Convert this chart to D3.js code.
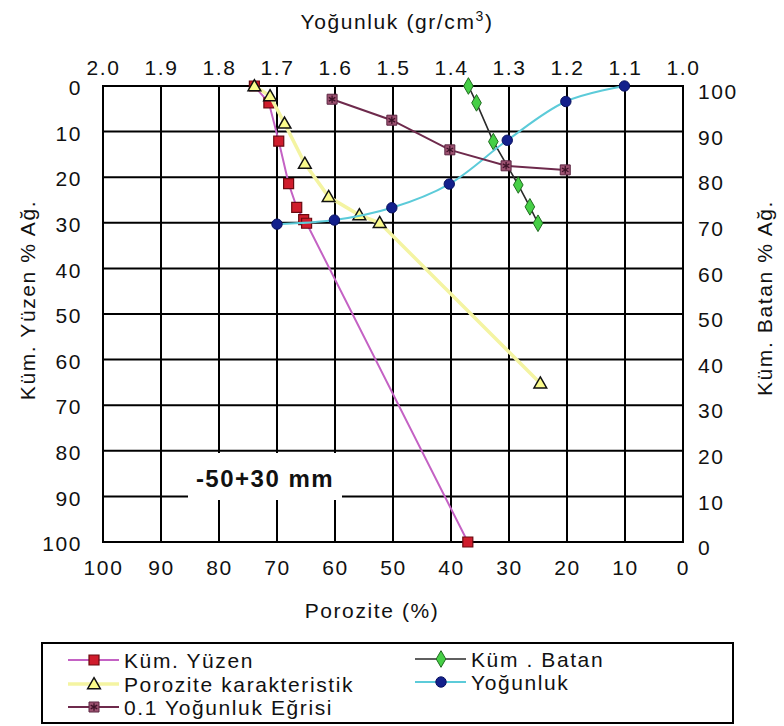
<!DOCTYPE html>
<html>
<head>
<meta charset="utf-8">
<script src="https://cdn.jsdelivr.net/npm/d3@7"></script>
<style>
  body { margin: 0; background: #fff; }
  text { font-family: "Liberation Sans", Arial, sans-serif; fill: #111; }
</style>
</head>
<body>
<svg id="chart" width="784" height="726"></svg>
<script>
// Porosity (%) on the shared horizontal axis, cumulative weight (%) on the vertical axes
const yuzenPorosity    = [73.9, 71.4, 69.7, 68.0, 66.6, 65.4, 64.9, 37.1];
const yuzenValues      = [0, 3.7, 12.1, 21.4, 26.6, 29.3, 30.1, 100];

const batanPorosity    = [37.0, 35.6, 32.7, 28.4, 26.4, 25.0];
const batanValues      = [100, 96.3, 87.8, 78.3, 73.5, 69.9];   // right axis

const porozitePorosity = [73.9, 71.2, 68.7, 65.2, 61.1, 55.8, 52.3, 24.6];
const poroziteValues   = [0, 2.2, 8.2, 17.0, 24.3, 28.3, 30.0, 65.2];

const yogunlukPorosity = [70.0, 60.1, 50.2, 40.3, 30.3, 20.2, 10.1];
const yogunlukValues   = [30.3, 29.4, 26.7, 21.5, 11.9, 3.4, 0];

const egriPorosity     = [60.5, 50.2, 40.2, 30.5, 20.3];
const egriValues       = [2.9, 7.5, 14.0, 17.5, 18.4];

const porosityTicks = [100, 90, 80, 70, 60, 50, 40, 30, 20, 10, 0];
const weightTicks   = [0, 10, 20, 30, 40, 50, 60, 70, 80, 90, 100];
const densityTicks  = [2.0, 1.9, 1.8, 1.7, 1.6, 1.5, 1.4, 1.3, 1.2, 1.1, 1.0];

const seriesNames = ["Küm. Yüzen", "Küm . Batan", "Porozite karakteristik", "Yoğunluk", "0.1  Yoğunluk Eğrisi"];

const svg = d3.select("#chart");
const plotLeft = 103, plotRight = 683, plotTop = 86, plotBottom = 542;

const x = d3.scaleLinear().domain([100, 0]).range([plotLeft, plotRight]);
const yLeft = d3.scaleLinear().domain([0, 100]).range([plotTop, plotBottom]);
const yRight = d3.scaleLinear().domain([100, 0]).range([plotTop, plotBottom]);
const xDensity = d3.scaleLinear().domain([2.0, 1.0]).range([plotLeft, plotRight]);

const fontSize = "21px";
const spacing = "1.6px";

// plot background
svg.append("rect").attr("x", plotLeft).attr("y", plotTop)
  .attr("width", plotRight - plotLeft).attr("height", plotBottom - plotTop).attr("fill", "#fff");

// gridlines
const grid = svg.append("g").attr("stroke", "#000").attr("stroke-width", 2);
grid.selectAll("line.v").data(porosityTicks).join("line")
  .attr("class", "v")
  .attr("x1", d => x(d)).attr("x2", d => x(d)).attr("y1", plotTop).attr("y2", plotBottom);
grid.selectAll("line.h").data(weightTicks).join("line")
  .attr("class", "h")
  .attr("x1", plotLeft).attr("x2", plotRight).attr("y1", d => yLeft(d)).attr("y2", d => yLeft(d));
svg.append("rect").attr("x", plotLeft).attr("y", plotTop)
  .attr("width", plotRight - plotLeft).attr("height", plotBottom - plotTop)
  .attr("fill", "none").attr("stroke", "#000").attr("stroke-width", 2);

function styleAxis(g) {
  g.select(".domain").remove();
  g.selectAll(".tick line").remove();
  g.selectAll("text").attr("font-size", fontSize).attr("letter-spacing", spacing)
    .attr("font-family", "'Liberation Sans', Arial, sans-serif").attr("fill", "#111");
}

// axes
svg.append("g").attr("transform", `translate(0,${plotBottom})`)
  .call(d3.axisBottom(x).tickValues(porosityTicks).tickSize(0).tickPadding(18).tickFormat(d3.format("d")))
  .call(styleAxis);
svg.append("g").attr("transform", `translate(0,${plotTop})`)
  .call(d3.axisTop(xDensity).tickValues(densityTicks).tickSize(0).tickPadding(11).tickFormat(d3.format(".1f")))
  .call(styleAxis);
svg.append("g").attr("transform", `translate(${plotLeft},0)`)
  .call(d3.axisLeft(yLeft).tickValues(weightTicks).tickSize(0).tickPadding(21).tickFormat(d3.format("d")))
  .call(styleAxis)
  .selectAll("text").attr("y", 2);
svg.append("g").attr("transform", `translate(${plotRight},0)`)
  .call(d3.axisRight(yRight).tickValues(weightTicks).tickSize(0).tickPadding(15).tickFormat(d3.format("d")))
  .call(styleAxis)
  .selectAll("text").attr("y", 6);

// axis titles
const topTitle = svg.append("text").attr("x", 397).attr("y", 29).attr("text-anchor", "middle")
  .attr("font-size", fontSize).attr("letter-spacing", spacing);
topTitle.append("tspan").text("Yoğunluk (gr/cm");
topTitle.append("tspan").attr("font-size", "14px").attr("dy", -8).text("3");
topTitle.append("tspan").attr("dy", 8).text(")");

svg.append("text").attr("x", 372).attr("y", 618).attr("text-anchor", "middle")
  .attr("font-size", fontSize).attr("letter-spacing", spacing).text("Porozite (%)");
svg.append("text").attr("transform", "translate(35,300) rotate(-90)").attr("text-anchor", "middle")
  .attr("font-size", fontSize).attr("letter-spacing", spacing).text("Küm. Yüzen % Ağ.");
svg.append("text").attr("transform", "translate(772,298) rotate(-90)").attr("text-anchor", "middle")
  .attr("font-size", fontSize).attr("letter-spacing", spacing).text("Küm. Batan % Ağ.");

// size label
svg.append("rect").attr("x", 188).attr("y", 453).attr("width", 154).attr("height", 47).attr("fill", "#fff");
svg.append("text").attr("x", 265).attr("y", 487).attr("text-anchor", "middle")
  .attr("font-size", "24px").attr("font-weight", "bold").attr("letter-spacing", "1.5px")
  .text("-50+30 mm");

// marker painters
const markers = {
  square(g, fill, stroke) {
    g.append("path").attr("d", d3.symbol(d3.symbolSquare, 100)())
      .attr("fill", fill).attr("stroke", stroke).attr("stroke-width", 1.2);
  },
  triangle(g) {
    g.append("path").attr("d", d3.symbol(d3.symbolTriangle, 70)()).attr("transform", "translate(0,1)")
      .attr("fill", "#fbfb8c").attr("stroke", "#111").attr("stroke-width", 1.5);
  },
  diamond(g) {
    g.append("path").attr("d", d3.symbol(d3.symbolDiamond, 80)())
      .attr("fill", "#46cf46").attr("stroke", "#1f6a1f").attr("stroke-width", 1);
  },
  dot(g) {
    g.append("path").attr("d", d3.symbol(d3.symbolCircle, 85)())
      .attr("fill", "#13208c").attr("stroke", "#0a1260").attr("stroke-width", 1);
  },
  star(g) {
    g.append("path").attr("d", d3.symbol(d3.symbolSquare, 100)())
      .attr("fill", "#9d5271").attr("stroke", "#5a2440").attr("stroke-width", 1);
    g.append("path").attr("d", d3.symbol(d3.symbolAsterisk, 40)())
      .attr("fill", "none").attr("stroke", "#3d1228").attr("stroke-width", 1.3);
  }
};

const series = [
  { name: seriesNames[0], px: yuzenPorosity, vy: yuzenValues, y: yLeft, color: "#c462c4", width: 2,
    curve: d3.curveLinear, mark: g => markers.square(g, "#d01c2c", "#6a0a10") },
  { name: seriesNames[1], px: batanPorosity, vy: batanValues, y: yRight, color: "#2a2a2a", width: 1.6,
    curve: d3.curveLinear, mark: g => markers.diamond(g) },
  { name: seriesNames[2], px: porozitePorosity, vy: poroziteValues, y: yLeft, color: "#f4f4a2", width: 3.5,
    curve: d3.curveLinear, mark: g => markers.triangle(g) },
  { name: seriesNames[3], px: yogunlukPorosity, vy: yogunlukValues, y: yLeft, color: "#5ccbd9", width: 2,
    curve: d3.curveCatmullRom.alpha(0.5), mark: g => markers.dot(g) },
  { name: seriesNames[4], px: egriPorosity, vy: egriValues, y: yLeft, color: "#6e2a4c", width: 2,
    curve: d3.curveLinear, mark: g => markers.star(g) }
];

// lines and markers
series.forEach(s => {
  const pts = s.px.map((p, i) => [p, s.vy[i]]);
  const line = d3.line().x(d => x(d[0])).y(d => s.y(d[1])).curve(s.curve);
  svg.append("path").datum(pts).attr("d", line)
    .attr("fill", "none").attr("stroke", s.color).attr("stroke-width", s.width);
  svg.append("g").selectAll("g").data(pts).join("g")
    .attr("transform", d => `translate(${x(d[0])},${s.y(d[1])})`)
    .each(function () { s.mark(d3.select(this)); });
});

// legend
svg.append("rect").attr("x", 42).attr("y", 643).attr("width", 691).attr("height", 80)
  .attr("fill", "#fff").attr("stroke", "#000").attr("stroke-width", 2);
const legendSlots = [
  { x: 68, y: 660 }, { x: 415, y: 659 },
  { x: 68, y: 684 }, { x: 415, y: 682 },
  { x: 68, y: 707 }
];
series.forEach((s, i) => {
  const slot = legendSlots[i];
  const g = svg.append("g").attr("transform", `translate(${slot.x},${slot.y})`);
  g.append("line").attr("x1", 0).attr("x2", 51).attr("stroke", s.color).attr("stroke-width", s.width);
  s.mark(g.append("g").attr("transform", "translate(26,0)"));
  g.append("text").attr("x", 56).attr("y", 8).attr("font-size", fontSize)
    .attr("letter-spacing", spacing).text(s.name);
});
</script>
</body>
</html>
